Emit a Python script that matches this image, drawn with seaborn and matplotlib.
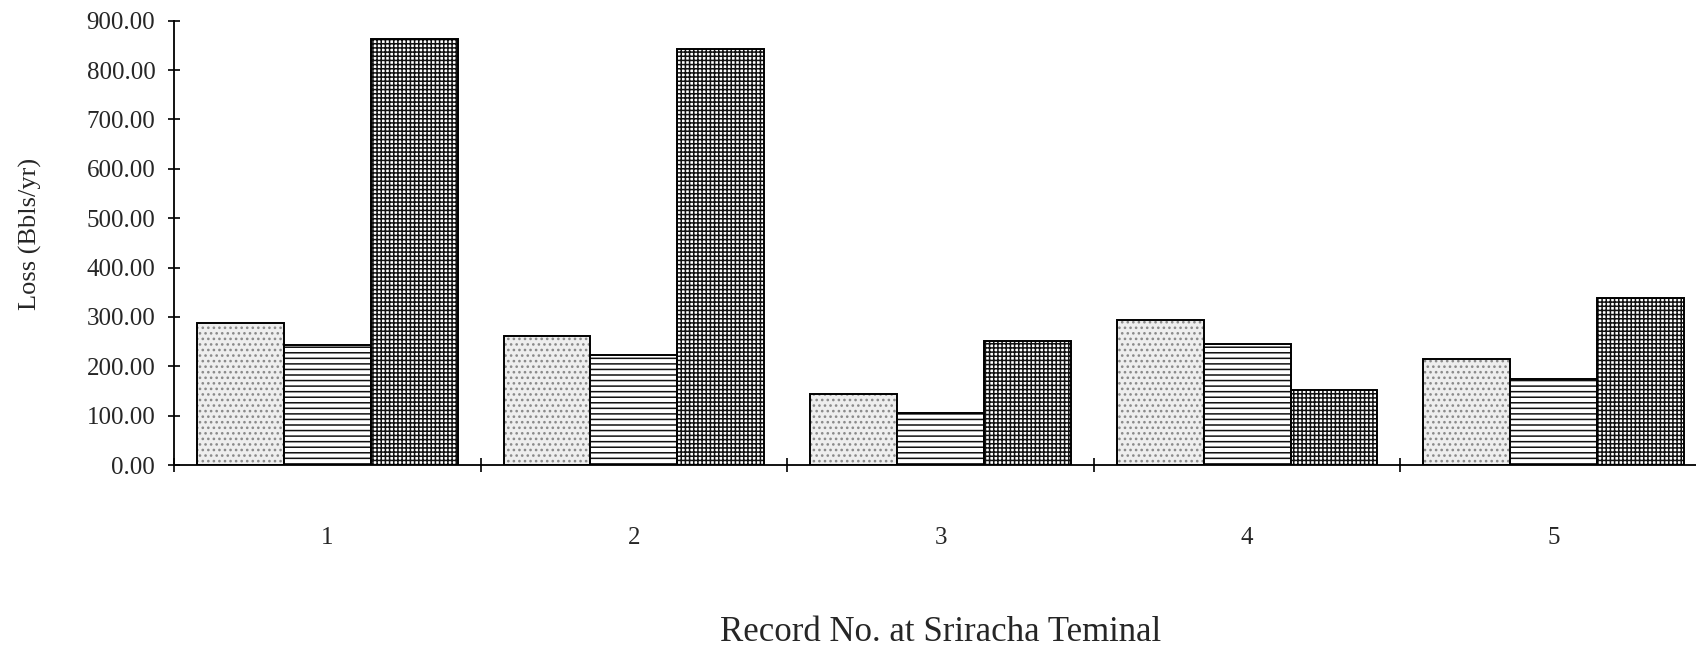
import numpy as np
import pandas as pd
import matplotlib
matplotlib.use("Agg")
import matplotlib.pyplot as plt
import seaborn as sns
from matplotlib.colors import to_rgba

# Annual loss per record, three cases per record
records = ["1", "2", "3", "4", "5"]
series_names = ["A", "B", "C"]
loss_a = [287, 262, 144, 293, 214]
loss_b = [243, 222, 105, 246, 175]
loss_c = [863, 842, 252, 152, 339]
y_ticks = [0, 100, 200, 300, 400, 500, 600, 700, 800, 900]

x_title = "Record No. at Sriracha Teminal"
y_title = "Loss (Bbls/yr)"

df = pd.DataFrame({
    "record": records * 3,
    "series": [s for s in series_names for _ in records],
    "loss": loss_a + loss_b + loss_c,
})

sns.set_style("ticks")
plt.rcParams["font.family"] = ["Liberation Serif", "DejaVu Serif"]
plt.rcParams["hatch.linewidth"] = 1.1

W, H = 1696, 654
fig = plt.figure(figsize=(W / 100, H / 100), dpi=100)
ax = fig.add_axes([174 / W, (H - 465) / H, 1533 / W, 444.3 / H])

face_colors = ["#eeeeee", "white", "white"]
sns.barplot(
    data=df, x="record", y="loss", hue="series",
    order=records, hue_order=series_names,
    palette=face_colors, saturation=1, width=0.85,
    edgecolor="black", linewidth=1.4, legend=False, ax=ax,
)

hatches = ["...", "---", "++++"]
hatch_colors = ["#8a8a8a", "#111111", "#111111"]
for container, hatch, hc in zip(ax.containers, hatches, hatch_colors):
    for bar in container:
        bar.set_hatch(hatch)
        if hasattr(bar, "set_hatchcolor"):
            bar.set_hatchcolor(hc)
        else:
            bar._hatch_color = to_rgba(hc)

ax.set_xlim(-0.5, len(records) - 0.5)
ax.set_ylim(0, 900)
ax.set_yticks(y_ticks)
ax.set_yticklabels([f"{v:.2f}" for v in y_ticks])

# group separators on the category axis
ax.set_xticks(np.arange(len(records) + 1) - 0.5, minor=True)
ax.tick_params(axis="x", which="minor", direction="inout", length=10, width=1.2, color="black")
ax.tick_params(axis="x", which="major", length=0, pad=45, labelsize=18)
ax.tick_params(axis="y", direction="inout", length=9, width=1.2, pad=9, labelsize=18, color="black")

for side in ["top", "right"]:
    ax.spines[side].set_visible(False)
for side in ["left", "bottom"]:
    ax.spines[side].set_linewidth(1.3)
    ax.spines[side].set_color("black")

ax.set_xlabel(x_title, fontsize=25, labelpad=48)
ax.set_ylabel(y_title, fontsize=19, labelpad=32)
ax.yaxis.label.set_y(0.52)

fig.savefig("out.png", dpi=100)
